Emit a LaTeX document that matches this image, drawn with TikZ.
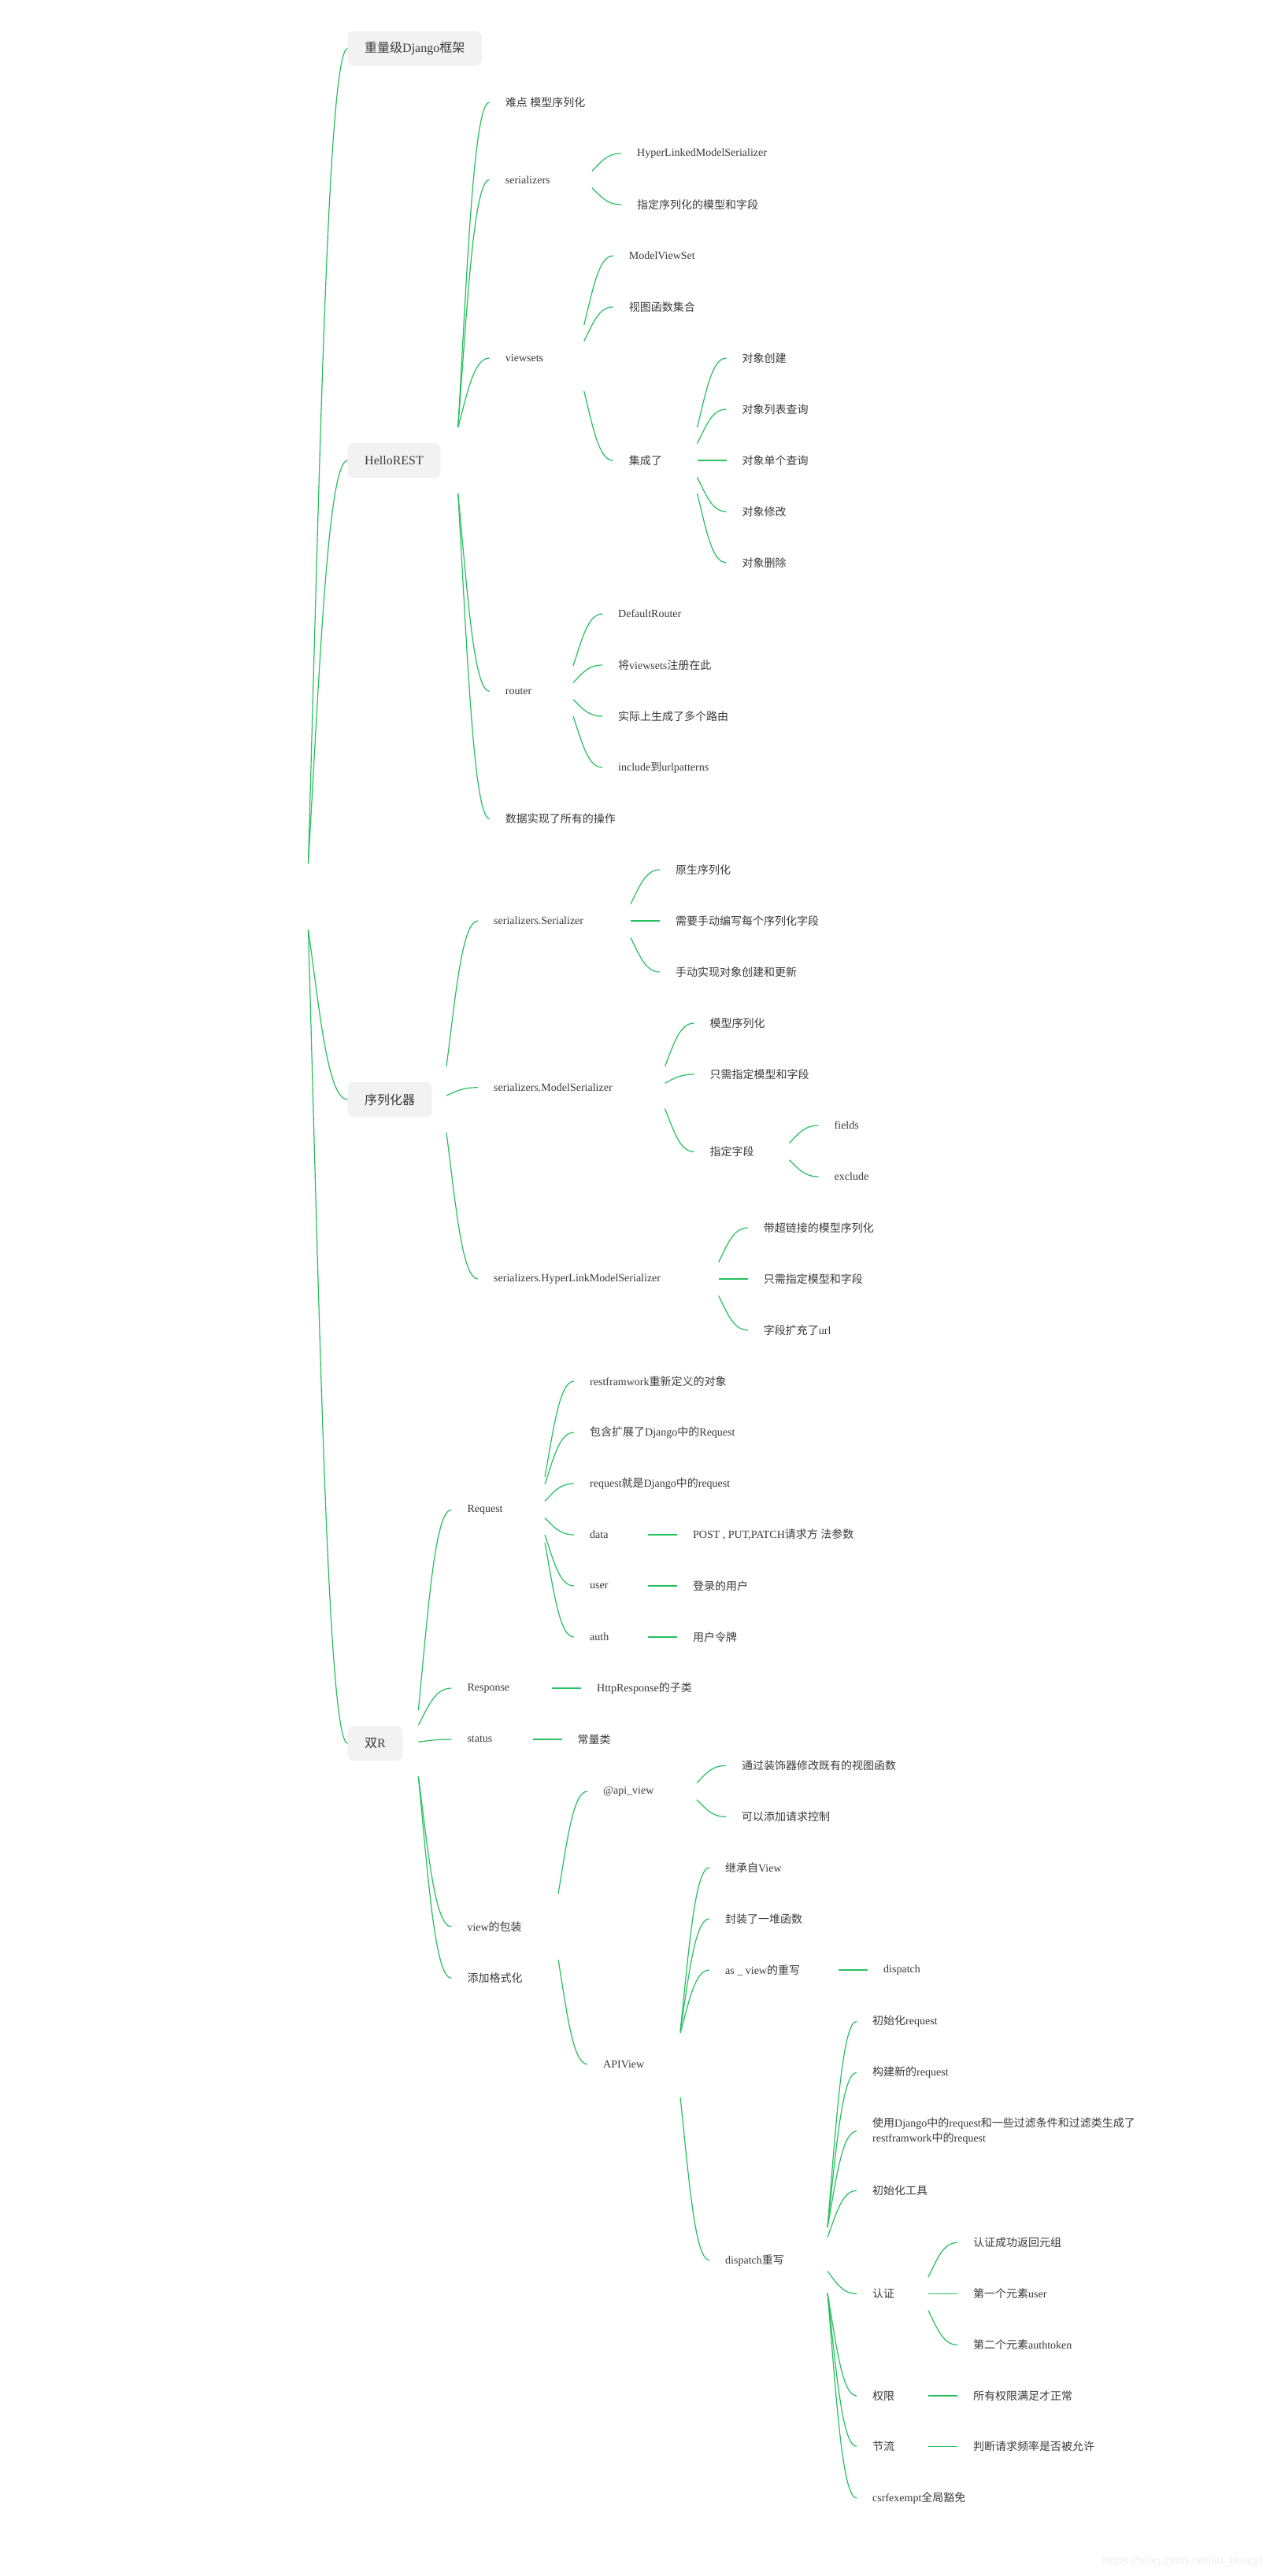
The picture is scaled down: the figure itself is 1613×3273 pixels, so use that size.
\documentclass[tikz,border=0pt]{standalone}
\usepackage{fontspec}
\setmainfont{Liberation Serif}
\newfontfamily\cjkfont{Noto Sans CJK SC}
\newfontfamily\markfont{Liberation Sans}
\usetikzlibrary{calc}

% CJK runs switch to the CJK font by themselves
\XeTeXinterchartokenstate=1
\newXeTeXintercharclass\cjkclass
\newcount\cjkcode
\cjkcode="4E00
\loop\XeTeXcharclass\cjkcode=\cjkclass
\ifnum\cjkcode<"9FFF \advance\cjkcode by 1 \repeat
\XeTeXinterchartoks 0 \cjkclass={\cjkfont}
\XeTeXinterchartoks 4095 \cjkclass={\cjkfont}
\XeTeXinterchartoks \cjkclass 0={\rmfamily}
\XeTeXinterchartoks \cjkclass 4095={\rmfamily}

\definecolor{linkgreen}{HTML}{26BF5F}
\definecolor{topicfill}{HTML}{F2F2F2}
\definecolor{textgray}{HTML}{3A3A3A}

% mind map branch: parent, child (optional: horizontal reach)
\newcommand\mmlink[3][37]{%
  \draw[link] let \p1=(#2.center), \p2=(#3.west),
    \n1={\y2-\y1}, \n2={max(-42,min(42,0.33*\n1))}, \n3={\y2-\y1-\n2}
  in (\x2-#1pt,\y1+\n2) .. controls (\x2-0.7*#1pt,\y1+\n2+0.5*\n3) and (\x2-0.5*#1pt,\y2) .. (\x2,\y2);}

\begin{document}
\begin{tikzpicture}[
    x=1pt, y=-1pt,
    topic/.style={fill=topicfill, rounded corners=7pt, inner xsep=21.5pt, minimum height=44pt, anchor=west, text=textgray, font=\fontsize{16}{20}\selectfont},
    leaf/.style={inner xsep=20pt, inner ysep=3pt, anchor=west, align=left, text=textgray, font=\fontsize{14}{19}\selectfont},
    link/.style={draw=linkgreen, line width=1.2pt}
]
\fill[white] (0,0) rectangle (1613,3273);
\useasboundingbox (0,0) rectangle (1613,3273);

% Root and main topics
\coordinate (root) at (340,1139);
\node[topic] (django) at (441.5,61.7) {重量级Django框架};
\node[topic] (hello) at (441.5,585) {HelloREST};
\node[topic] (serz) at (441.5,1397) {序列化器};
\node[topic] (dualr) at (441.5,2215) {双R};

% HelloREST
\node[leaf] (hard) at (621.7,130) {难点 模型序列化};
\node[leaf] (sers) at (621.7,228.3) {serializers};
\node[leaf] (vsets) at (621.7,455) {viewsets};
\node[leaf] (router) at (621.7,878.3) {router};
\node[leaf] (allops) at (621.7,1040) {数据实现了所有的操作};
\node[leaf] (hlms) at (789,195) {HyperLinkedModelSerializer};
\node[leaf] (specfm) at (789,260) {指定序列化的模型和字段};
\node[leaf] (mvs) at (778.7,325) {ModelViewSet};
\node[leaf] (vfuncs) at (778.7,390) {视图函数集合};
\node[leaf] (integ) at (778.7,585) {集成了};
\node[leaf] (ocreate) at (922.5,455) {对象创建};
\node[leaf] (olist) at (922.5,520) {对象列表查询};
\node[leaf] (oone) at (922.5,585) {对象单个查询};
\node[leaf] (oedit) at (922.5,650) {对象修改};
\node[leaf] (odel) at (922.5,715) {对象删除};
\node[leaf] (drouter) at (765,780) {DefaultRouter};
\node[leaf] (reg) at (765,845) {将viewsets注册在此};
\node[leaf] (routes) at (765,910) {实际上生成了多个路由};
\node[leaf] (incl) at (765,975) {include到urlpatterns};

% Serializers
\node[leaf] (sbase) at (607,1170) {serializers.Serializer};
\node[leaf] (smodel) at (607,1381.7) {serializers.ModelSerializer};
\node[leaf] (shyper) at (607,1625) {serializers.HyperLinkModelSerializer};
\node[leaf] (native) at (838,1105) {原生序列化};
\node[leaf] (manual) at (838,1170) {需要手动编写每个序列化字段};
\node[leaf] (manualcu) at (838,1235) {手动实现对象创建和更新};
\node[leaf] (mser) at (881.5,1300) {模型序列化};
\node[leaf] (onlymf) at (881.5,1365) {只需指定模型和字段};
\node[leaf] (fieldspec) at (881.5,1463.3) {指定字段};
\node[leaf] (fields) at (1039.5,1430) {fields};
\node[leaf] (excl) at (1039.5,1495) {exclude};
\node[leaf] (hyperser) at (949.7,1560) {带超链接的模型序列化};
\node[leaf] (honlymf) at (949.7,1625) {只需指定模型和字段};
\node[leaf] (urlf) at (949.7,1690) {字段扩充了url};

% Request / Response
\node[leaf] (req) at (573.3,1918.3) {Request};
\node[leaf] (resp) at (573.3,2145) {Response};
\node[leaf] (status) at (573.3,2210) {status};
\node[leaf] (vwrap) at (573.3,2448) {view的包装};
\node[leaf] (fmt) at (573.3,2513.3) {添加格式化};
\node[leaf] (rdef) at (729,1755) {restframwork重新定义的对象};
\node[leaf] (rext) at (729,1820) {包含扩展了Django中的Request};
\node[leaf] (rdj) at (729,1885) {request就是Django中的request};
\node[leaf] (rdata) at (729,1950) {data};
\node[leaf] (ruser) at (729,2015) {user};
\node[leaf] (rauth) at (729,2080) {auth};
\node[leaf] (datadesc) at (860,1950) {POST , PUT,PATCH请求方 法参数};
\node[leaf] (userdesc) at (860,2015) {登录的用户};
\node[leaf] (authdesc) at (860,2080) {用户令牌};
\node[leaf] (respdesc) at (738,2145) {HttpResponse的子类};
\node[leaf] (statusdesc) at (713.5,2210) {常量类};

% Views
\node[leaf] (apiview) at (746,2276) {@api\_view};
\node[leaf] (apiv) at (746,2622.7) {APIView};
\node[leaf] (deco) at (922,2243.3) {通过装饰器修改既有的视图函数};
\node[leaf] (ctrl) at (922,2308.3) {可以添加请求控制};
\node[leaf] (inherit) at (901,2373) {继承自View};
\node[leaf] (funcs) at (901,2438) {封装了一堆函数};
\node[leaf] (asview) at (901,2503) {as \_ view的重写};
\node[leaf] (dispatch) at (901,2871.7) {dispatch重写};
\node[leaf] (asdisp) at (1102,2503) {dispatch};
\node[leaf] (initreq) at (1088,2568.3) {初始化request};
\node[leaf] (newreq) at (1088,2633.3) {构建新的request};
\node[leaf] (buildreq) at (1088,2708) {使用Django中的request和一些过滤条件和过滤类生成了\\restframwork中的request};
\node[leaf] (inittools) at (1088,2783.3) {初始化工具};
\node[leaf] (authn) at (1088,2914.3) {认证};
\node[leaf] (perm) at (1088,3044) {权限};
\node[leaf] (throttle) at (1088,3108.3) {节流};
\node[leaf] (csrf) at (1088,3174) {csrfexempt全局豁免};
\node[leaf] (authok) at (1216,2849.3) {认证成功返回元组};
\node[leaf] (first) at (1216,2914.3) {第一个元素user};
\node[leaf] (second) at (1216,2979.3) {第二个元素authtoken};
\node[leaf] (permdesc) at (1216,3044) {所有权限满足才正常};
\node[leaf] (throttledesc) at (1216,3108.3) {判断请求频率是否被允许};

\node[anchor=east, inner sep=0pt, text=gray!13, font=\markfont\fontsize{15}{18}\selectfont] (mark) at (1604,3255) {https://blog.csdn.net/liu\_dongd};

% Branches
\mmlink[50]{root}{django}
\mmlink[50]{root}{hello}
\mmlink[50]{root}{serz}
\mmlink[50]{root}{dualr}

\mmlink[40]{hello}{hard}
\mmlink[40]{hello}{sers}
\mmlink[40]{hello}{vsets}
\mmlink[40]{hello}{router}
\mmlink[40]{hello}{allops}
\mmlink{sers}{hlms}
\mmlink{sers}{specfm}
\mmlink{vsets}{mvs}
\mmlink{vsets}{vfuncs}
\mmlink{vsets}{integ}
\mmlink{integ}{ocreate}
\mmlink{integ}{olist}
\mmlink{integ}{oone}
\mmlink{integ}{oedit}
\mmlink{integ}{odel}
\mmlink{router}{drouter}
\mmlink{router}{reg}
\mmlink{router}{routes}
\mmlink{router}{incl}

\mmlink[40]{serz}{sbase}
\mmlink[40]{serz}{smodel}
\mmlink[40]{serz}{shyper}
\mmlink{sbase}{native}
\mmlink{sbase}{manual}
\mmlink{sbase}{manualcu}
\mmlink{smodel}{mser}
\mmlink{smodel}{onlymf}
\mmlink{smodel}{fieldspec}
\mmlink{fieldspec}{fields}
\mmlink{fieldspec}{excl}
\mmlink{shyper}{hyperser}
\mmlink{shyper}{honlymf}
\mmlink{shyper}{urlf}

\mmlink[42]{dualr}{req}
\mmlink[42]{dualr}{resp}
\mmlink[42]{dualr}{status}
\mmlink[42]{dualr}{vwrap}
\mmlink[42]{dualr}{fmt}
\mmlink{req}{rdef}
\mmlink{req}{rext}
\mmlink{req}{rdj}
\mmlink{req}{rdata}
\mmlink{req}{ruser}
\mmlink{req}{rauth}
\mmlink{rdata}{datadesc}
\mmlink{ruser}{userdesc}
\mmlink{rauth}{authdesc}
\mmlink{resp}{respdesc}
\mmlink{status}{statusdesc}

\mmlink{vwrap}{apiview}
\mmlink{vwrap}{apiv}
\mmlink{apiview}{deco}
\mmlink{apiview}{ctrl}
\mmlink{apiv}{inherit}
\mmlink{apiv}{funcs}
\mmlink{apiv}{asview}
\mmlink{apiv}{dispatch}
\mmlink{asview}{asdisp}
\mmlink{dispatch}{initreq}
\mmlink{dispatch}{newreq}
\mmlink{dispatch}{buildreq}
\mmlink{dispatch}{inittools}
\mmlink{dispatch}{authn}
\mmlink{dispatch}{perm}
\mmlink{dispatch}{throttle}
\mmlink{dispatch}{csrf}
\mmlink{authn}{authok}
\mmlink{authn}{first}
\mmlink{authn}{second}
\mmlink{perm}{permdesc}
\mmlink{throttle}{throttledesc}

\end{tikzpicture}
\end{document}
